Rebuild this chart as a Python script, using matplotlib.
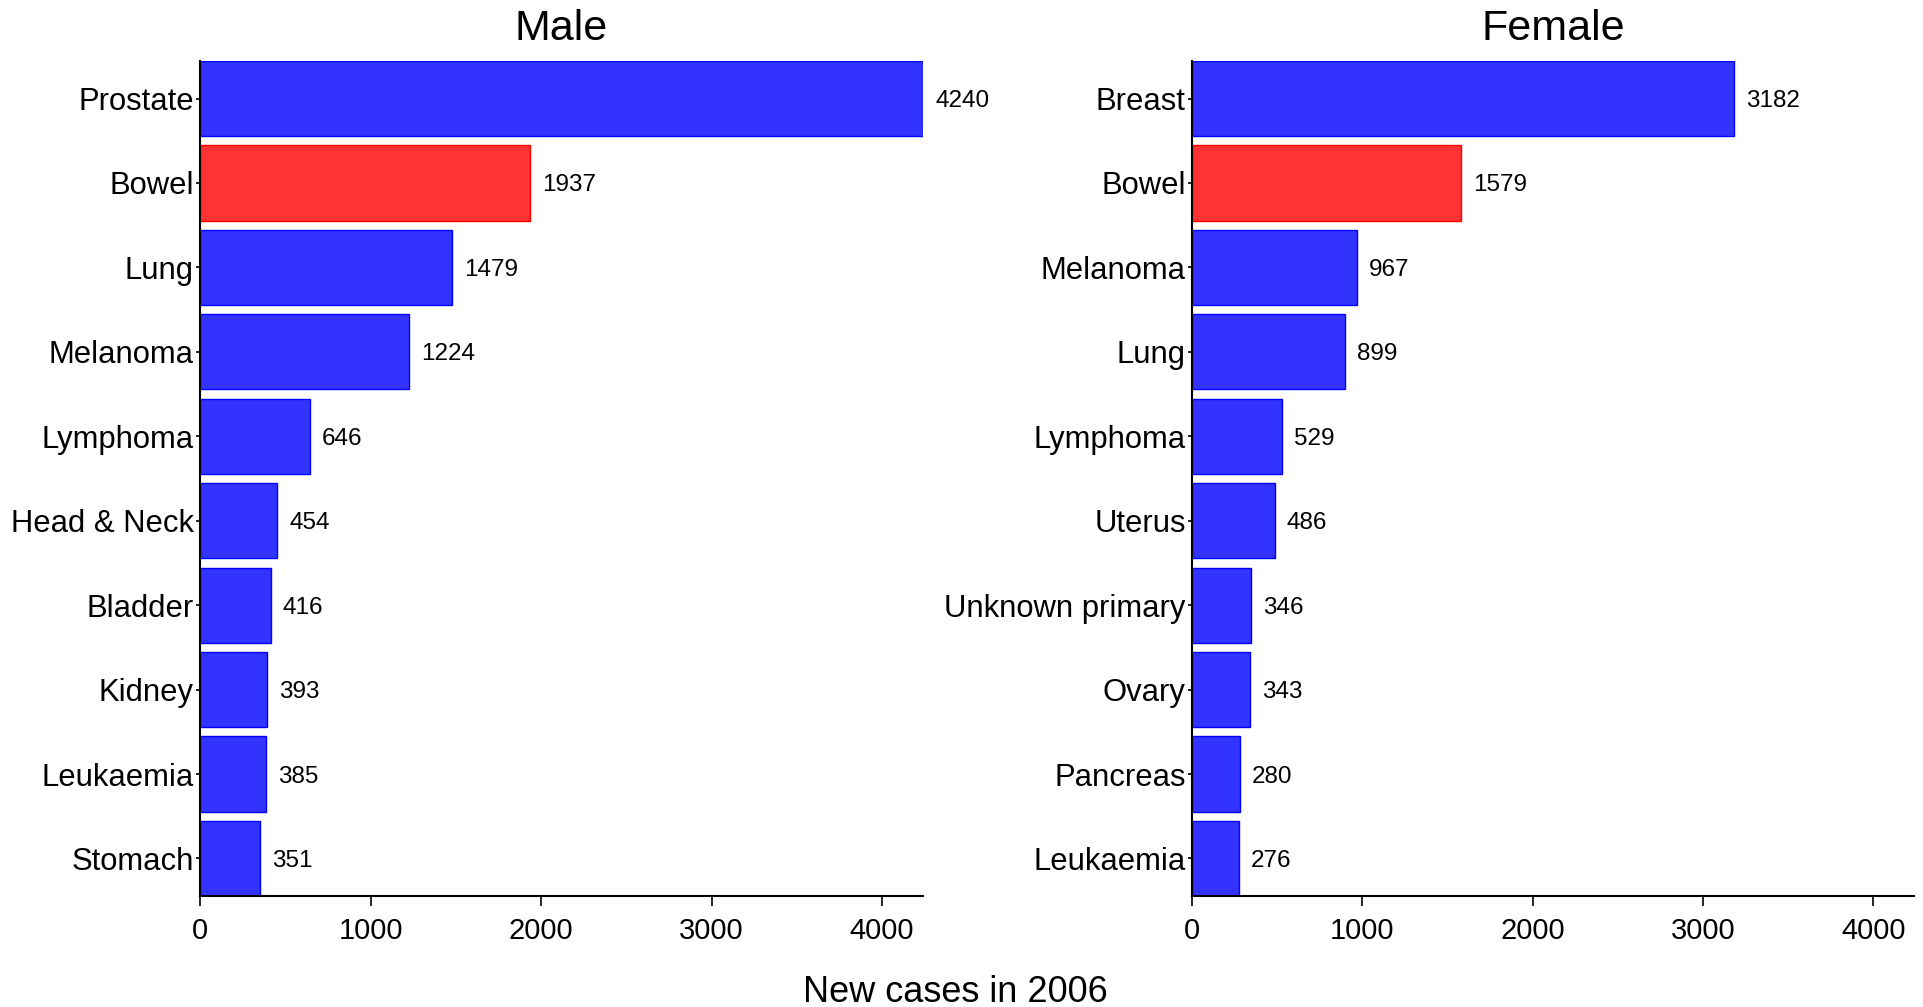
import matplotlib
matplotlib.use("Agg")
import matplotlib.pyplot as plt

plt.rcParams['font.family'] = ['Liberation Sans', 'DejaVu Sans']

male_cats = ["Prostate", "Bowel", "Lung", "Melanoma", "Lymphoma", "Head & Neck",
             "Bladder", "Kidney", "Leukaemia", "Stomach"]
male_vals = [4240, 1937, 1479, 1224, 646, 454, 416, 393, 385, 351]
female_cats = ["Breast", "Bowel", "Melanoma", "Lung", "Lymphoma", "Uterus",
               "Unknown primary", "Ovary", "Pancreas", "Leukaemia"]
female_vals = [3182, 1579, 967, 899, 529, 486, 346, 343, 280, 276]
xticks = [0, 1000, 2000, 3000, 4000]
highlight = "Bowel"

W, H = 1923, 1007
fig = plt.figure(figsize=(W / 100, H / 100), dpi=100)

def panel(rect, cats, vals, title):
    ax = fig.add_axes(rect)
    n = len(cats)
    ys = list(range(n))
    colors = ['#FF3333' if c == highlight else '#3333FF' for c in cats]
    edges = ['#FF0000' if c == highlight else '#0000FF' for c in cats]
    ax.barh(ys, vals, height=0.89, color=colors, edgecolor=edges, linewidth=1)
    ax.set_ylim(n - 0.555, -0.445)
    ax.set_xlim(0, max(male_vals))
    ax.set_yticks(ys)
    ax.set_yticklabels(cats, fontsize=22.3)
    ax.set_xticks(xticks)
    ax.set_xticklabels([str(t) for t in xticks], fontsize=21)
    ax.tick_params(axis='x', length=7, width=1.2, pad=8)
    ax.tick_params(axis='y', length=3, width=1.2, pad=1.5)
    for s in ['top', 'right']:
        ax.spines[s].set_visible(False)
    for s in ['left', 'bottom']:
        ax.spines[s].set_linewidth(1.5)
    for y, v in zip(ys, vals):
        ax.annotate(str(v), (v, y), xytext=(12, 0), textcoords='offset pixels',
                    va='center_baseline', ha='left', fontsize=17.5)
    ax.set_title(title, fontsize=31, pad=15)
    return ax

panel([200 / W, 1 - 896 / H, 723 / W, 835 / H], male_cats, male_vals, "Male")
panel([1192 / W, 1 - 896 / H, 722 / W, 835 / H], female_cats, female_vals, "Female")

fig.text(955 / W, 1 - 992 / H, "New cases in 2006", ha='center', va='center', fontsize=26)

fig.savefig("out.png", dpi=100)
